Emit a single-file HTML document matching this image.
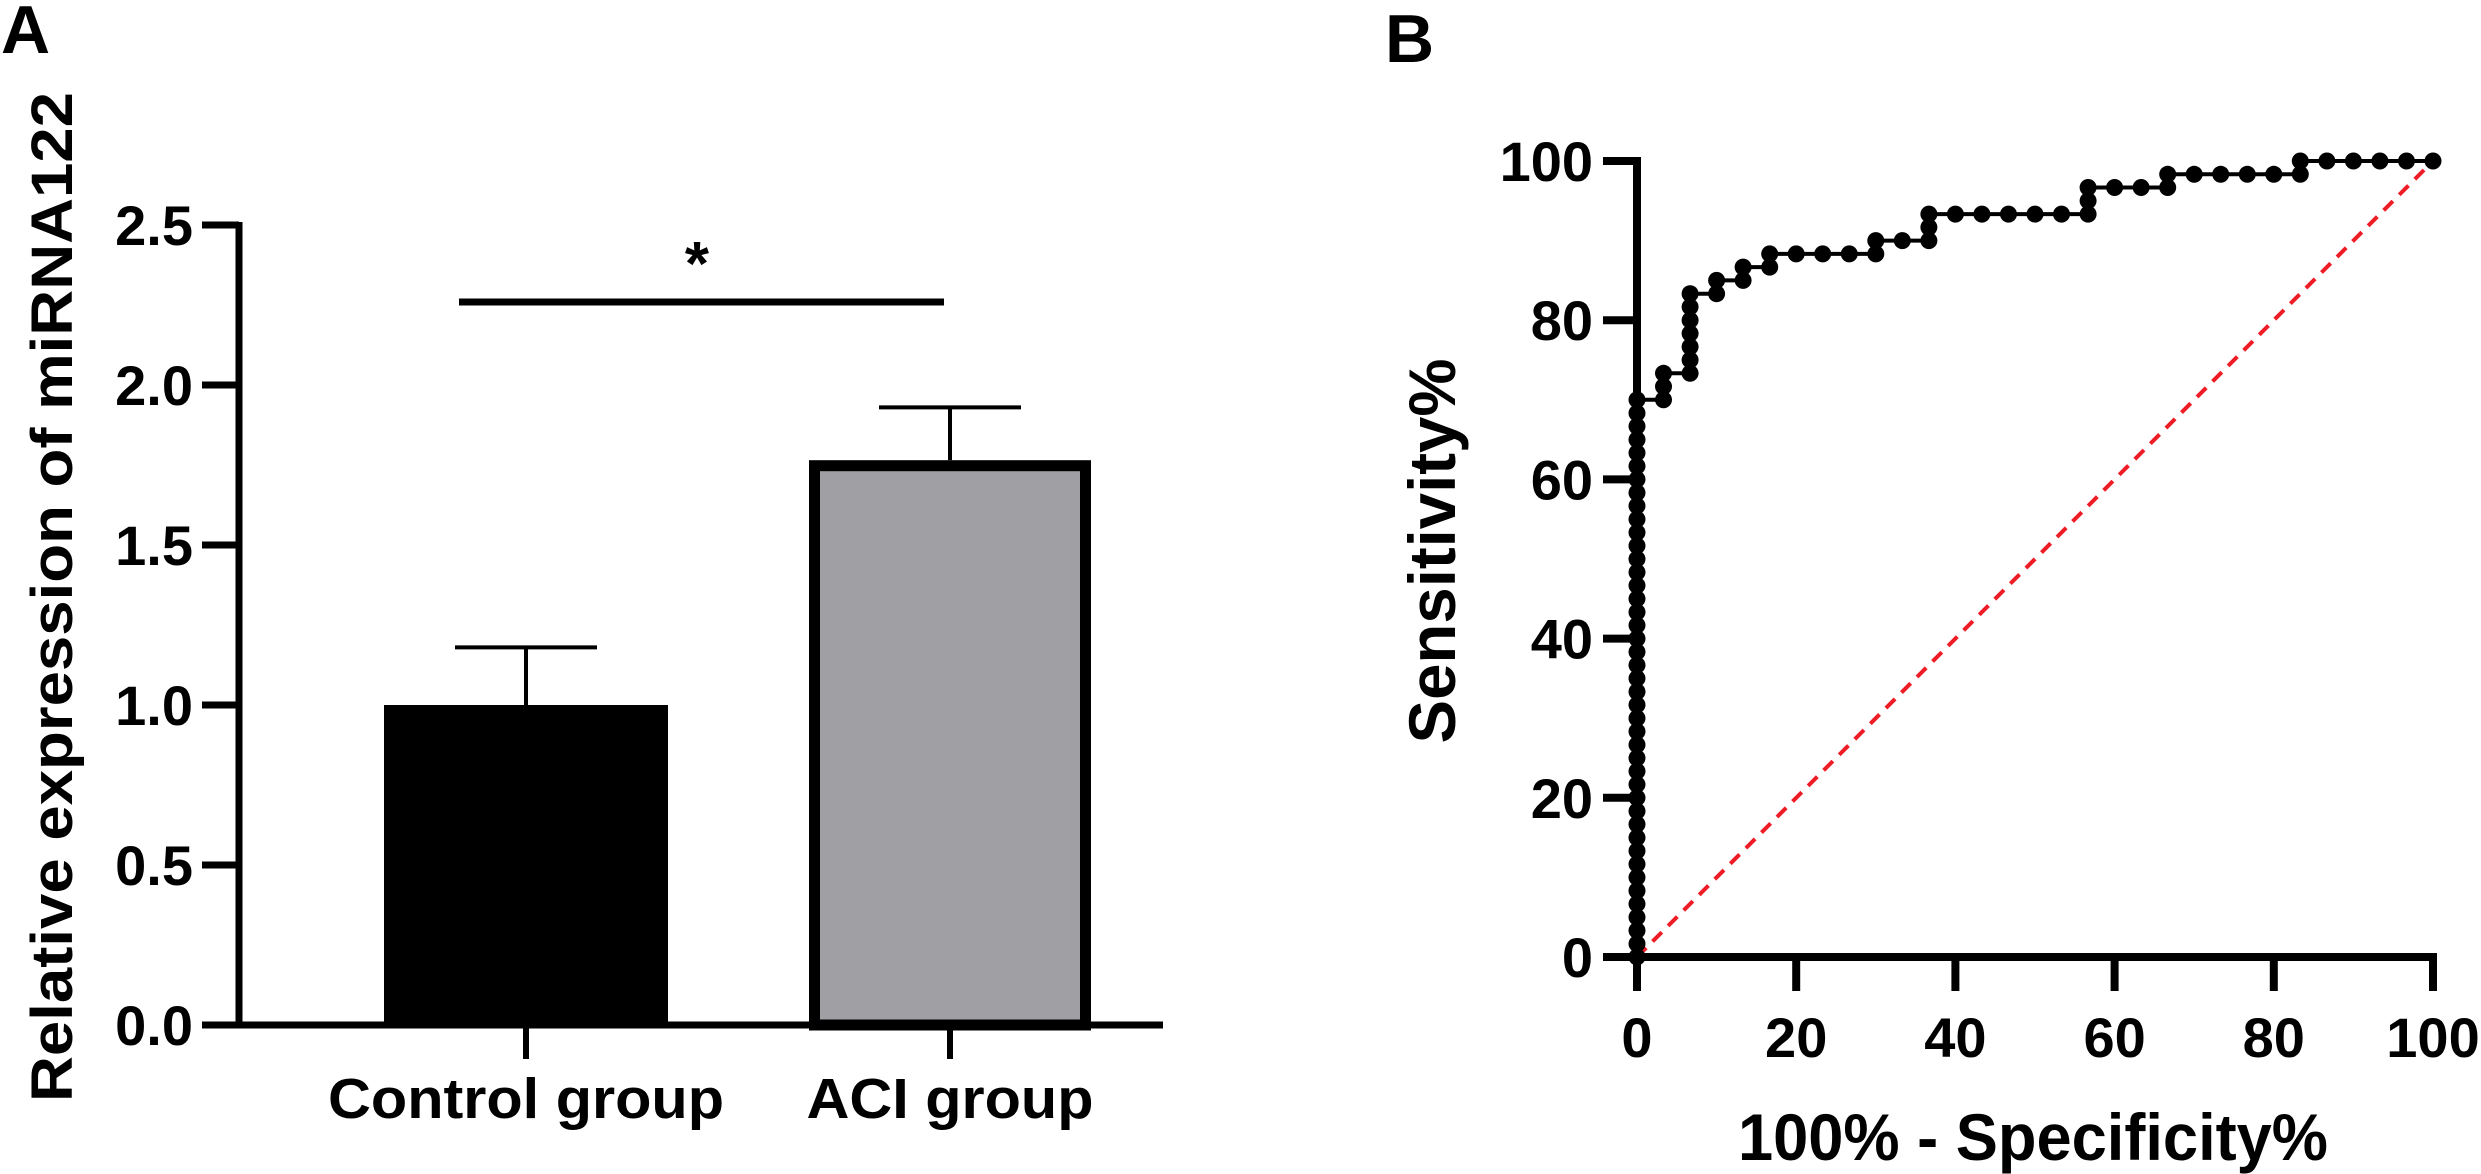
<!DOCTYPE html>
<html><head><meta charset="utf-8"><style>
html,body{margin:0;padding:0;background:#fff;}
svg{display:block;font-family:"Liberation Sans",Arial,sans-serif;font-weight:bold;}
</style></head><body>
<svg id="fig" width="2481" height="1174" viewBox="0 0 2481 1174" xmlns="http://www.w3.org/2000/svg">
<g id="panelA"></g>
<g id="panelB"></g>
</svg>
<script>
// Panel A data
const barCategories = ["Control group", "ACI group"];
const barValues = [1.0, 1.765];
const barErrors = [1.18, 1.93];
const aTicks = [0, 0.5, 1.0, 1.5, 2.0, 2.5];
const aTickLabels = ["0.0", "0.5", "1.0", "1.5", "2.0", "2.5"];
// Panel B data
const rocFpr = [0,0,0,0,0,0,0,0,0,0,0,0,0,0,0,0,0,0,0,0,0,0,0,0,0,0,0,0,0,0,0,0,0,0,0,0,0,0,0,0,0,0,0,
 3.33,3.33,3.33,6.67,6.67,6.67,6.67,6.67,6.67,6.67,10,10,13.33,13.33,16.67,16.67,20,23.33,26.67,30,30,33.33,36.67,36.67,36.67,40,43.33,46.67,50,53.33,56.67,56.67,56.67,60,63.33,66.67,66.67,70,73.33,76.67,80,83.33,83.33,86.67,90,93.33,96.67,100];
const rocTpr = [0,1.67,3.33,5,6.67,8.33,10,11.67,13.33,15,16.67,18.33,20,21.67,23.33,25,26.67,28.33,30,31.67,33.33,35,36.67,38.33,40,41.67,43.33,45,46.67,48.33,50,51.67,53.33,55,56.67,58.33,60,61.67,63.33,65,66.67,68.33,70,
 70,71.67,73.33,73.33,75,76.67,78.33,80,81.67,83.33,83.33,85,85,86.67,86.67,88.33,88.33,88.33,88.33,88.33,90,90,90,91.67,93.33,93.33,93.33,93.33,93.33,93.33,93.33,95,96.67,96.67,96.67,96.67,98.33,98.33,98.33,98.33,98.33,98.33,100,100,100,100,100,100];
const bTicks = [0, 20, 40, 60, 80, 100];
const bTickLabels = ["0", "20", "40", "60", "80", "100"];

const NS = "http://www.w3.org/2000/svg";
function mk(parent, tag, attrs, text) {
  const el = document.createElementNS(NS, tag);
  for (const k in attrs) el.setAttribute(k, attrs[k]);
  if (text !== undefined) el.textContent = text;
  parent.appendChild(el);
  return el;
}

// ---------- Panel A ----------
const A = document.getElementById("panelA");
const ay = v => 1025 - v * 320;
const ax0 = 239;
const barX = [[384, 668], [809, 1091]];
const labelW = [396, 287];
let t = mk(A, "text", {x: 1, y: 53, "font-size": 68}, "A");


barValues.forEach((v, i) => {
  const [x1, x2] = barX[i];
  const cx = (x1 + x2) / 2;
  let e = mk(A, "line", {x1: cx, x2: cx, y1: ay(v), y2: ay(barErrors[i]), stroke: "#000", "stroke-width": 4});
  
  
  let c = mk(A, "line", {x1: cx - 71, x2: cx + 71, y1: ay(barErrors[i]), y2: ay(barErrors[i]), stroke: "#000", "stroke-width": 4});
  
  
  let r;
  if (i === 0) {
    r = mk(A, "rect", {x: x1, y: ay(v), width: x2 - x1, height: ay(0) - ay(v), fill: "#000"});
  } else {
    r = mk(A, "rect", {x: x1 + 5.5, y: ay(v) + 5.5, width: x2 - x1 - 11, height: ay(0) - ay(v) - 5.5, fill: "#a0a0a4", stroke: "#000", "stroke-width": 11});
  }
  
  
  let tk = mk(A, "line", {x1: cx, x2: cx, y1: ay(0), y2: 1059, stroke: "#000", "stroke-width": 6});
  
  
  let lb = mk(A, "text", {x: cx, y: 1118, "font-size": 57, "text-anchor": "middle", textLength: labelW[i], lengthAdjust: "spacingAndGlyphs"}, barCategories[i]);
  
  
});
let yaxA = mk(A, "line", {x1: ax0, x2: ax0, y1: ay(2.5) - 3, y2: ay(0) + 3, stroke: "#000", "stroke-width": 7});


let xaxA = mk(A, "line", {x1: 202, x2: 1163, y1: ay(0), y2: ay(0), stroke: "#000", "stroke-width": 7});


aTicks.forEach((v, i) => {
  let tk = mk(A, "line", {x1: 202, x2: ax0, y1: ay(v), y2: ay(v), stroke: "#000", "stroke-width": 7});
  
  
  let lb = mk(A, "text", {x: 193, y: ay(v) + 20, "font-size": 56, "text-anchor": "end"}, aTickLabels[i]);
  
  
});
let sig = mk(A, "line", {x1: 459, x2: 944, y1: 302, y2: 302, stroke: "#000", "stroke-width": 7});


let star = mk(A, "text", {x: 697, y: 285, "font-size": 62, "text-anchor": "middle"}, "*");


let ytA = mk(A, "text", {x: 0, y: 0, "font-size": 58, "text-anchor": "middle", transform: "translate(72,597) rotate(-90)", textLength: 1010, lengthAdjust: "spacingAndGlyphs"}, "Relative expression of miRNA122");



// ---------- Panel B ----------
const B = document.getElementById("panelB");
const bx = v => 1637 + v * 7.96;
const by = v => 957 - v * 7.96;
let tb = mk(B, "text", {x: 1385, y: 62, "font-size": 68}, "B");


let ref = mk(B, "line", {x1: bx(0), y1: by(0), x2: bx(100), y2: by(100), stroke: "#ee1c25", "stroke-width": 4, "stroke-dasharray": "13 9"});


let yaxB = mk(B, "line", {x1: bx(0), x2: bx(0), y1: by(100) - 4, y2: by(0) + 4, stroke: "#000", "stroke-width": 8});


let xaxB = mk(B, "line", {x1: 1603, x2: bx(100) + 4, y1: by(0), y2: by(0), stroke: "#000", "stroke-width": 8});


bTicks.forEach((v, i) => {
  let ty = mk(B, "line", {x1: 1603, x2: bx(0), y1: by(v), y2: by(v), stroke: "#000", "stroke-width": 8});
  
  
  let ly = mk(B, "text", {x: 1593, y: by(v) + 20, "font-size": 56, "text-anchor": "end"}, bTickLabels[i]);
  
  
  let tx = mk(B, "line", {x1: bx(v), x2: bx(v), y1: by(0), y2: 991, stroke: "#000", "stroke-width": 8});
  
  
  let lx = mk(B, "text", {x: bx(v), y: 1057, "font-size": 56, "text-anchor": "middle"}, bTickLabels[i]);
  
  
});
const pts = rocFpr.map((f, i) => bx(f).toFixed(1) + "," + by(rocTpr[i]).toFixed(1)).join(" ");
let roc = mk(B, "polyline", {points: pts, fill: "none", stroke: "#000", "stroke-width": 4});


rocFpr.forEach((f, i) => {
  let d = mk(B, "circle", {cx: bx(f), cy: by(rocTpr[i]), r: 8.5, fill: "#000"});
  
  
});
let xtB = mk(B, "text", {x: 2033, y: 1160, "font-size": 66, "text-anchor": "middle", textLength: 590, lengthAdjust: "spacingAndGlyphs"}, "100% - Specificity%");


let ytB = mk(B, "text", {x: 0, y: 0, "font-size": 66, "text-anchor": "middle", transform: "translate(1455,551) rotate(-90)", textLength: 385, lengthAdjust: "spacingAndGlyphs"}, "Sensitivity%");


</script>
</body></html>
